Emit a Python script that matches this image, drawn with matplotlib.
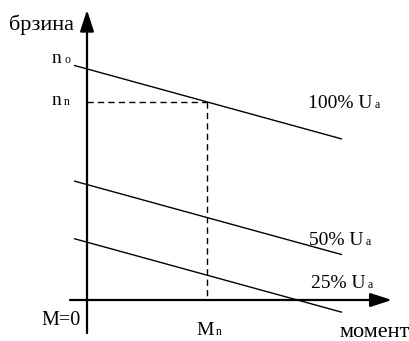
import matplotlib
matplotlib.use("Agg")
import matplotlib.pyplot as plt

plt.rcParams['font.family'] = ['Liberation Serif', 'DejaVu Serif']

# speed-torque characteristics of a DC motor at reduced armature voltage
# (torque in units of M_n, speed in units of n_n)
voltage_labels = ["100% U", "50% U", "25% U"]
torque_ends = [-0.108, 2.125]
speed_100 = [1.185, 0.813]
speed_50 = [0.601, 0.229]
speed_25 = [0.310, -0.062]
rated_torque = 1.0
rated_speed = 1.0

fig = plt.figure(figsize=(4.09, 3.41), dpi=100)
ax = fig.add_axes([0, 0, 1, 1])
ax.set_xlim(-0.725, 2.683)
ax.set_ylim(-0.207, 1.515)
ax.axis('off')

big = 14
word = 16
small = 8.5

def sub_text(x, y, main, sub, size=big):
    t = ax.text(x, y, main, fontsize=size, ha='left', va='baseline')
    ax.annotate(sub, xy=(1, 0), xycoords=t, xytext=(1.8, 0.216 * size),
                textcoords='offset points', fontsize=small,
                ha='left', va='baseline')
    return t

# axes with arrow heads
arrow = dict(arrowstyle='-|>,head_length=1.3,head_width=0.42', lw=1.6,
             color='k', shrinkA=0, shrinkB=0, mutation_scale=10)
ax.annotate('', xy=(2.54, 0), xytext=(-0.142, 0), arrowprops=arrow)
ax.annotate('', xy=(0, 1.465), xytext=(0, -0.167), arrowprops=arrow)

# characteristics
for speeds in (speed_100, speed_50, speed_25):
    ax.plot(torque_ends, speeds, color='k', lw=1.0, solid_capstyle='butt')

# rated operating point
ax.plot([0, rated_torque], [rated_speed, rated_speed], color='k', lw=1.0,
        linestyle=(0, (4.5, 3)))
ax.plot([rated_torque, rated_torque], [rated_speed, 0], color='k', lw=1.0,
        linestyle=(0, (4.5, 3)))

# labels
ax.text(-0.383, 1.364, "брзина", fontsize=word, ha='center', va='baseline')
sub_text(-0.292, 1.197, "n", "o")
sub_text(-0.292, 0.985, "n", "n")
sub_text(1.842, 0.970, voltage_labels[0], "a")
sub_text(1.850, 0.278, voltage_labels[1], "a")
sub_text(1.867, 0.061, voltage_labels[2], "a")
ax.text(-0.379, -0.126, "M=0", fontsize=14.5, ha='left', va='baseline')
sub_text(0.908, -0.177, "M", "n", size=14)
ax.text(2.1, -0.187, "момент", fontsize=word, ha='left', va='baseline')

fig.savefig("out.png", dpi=100)
